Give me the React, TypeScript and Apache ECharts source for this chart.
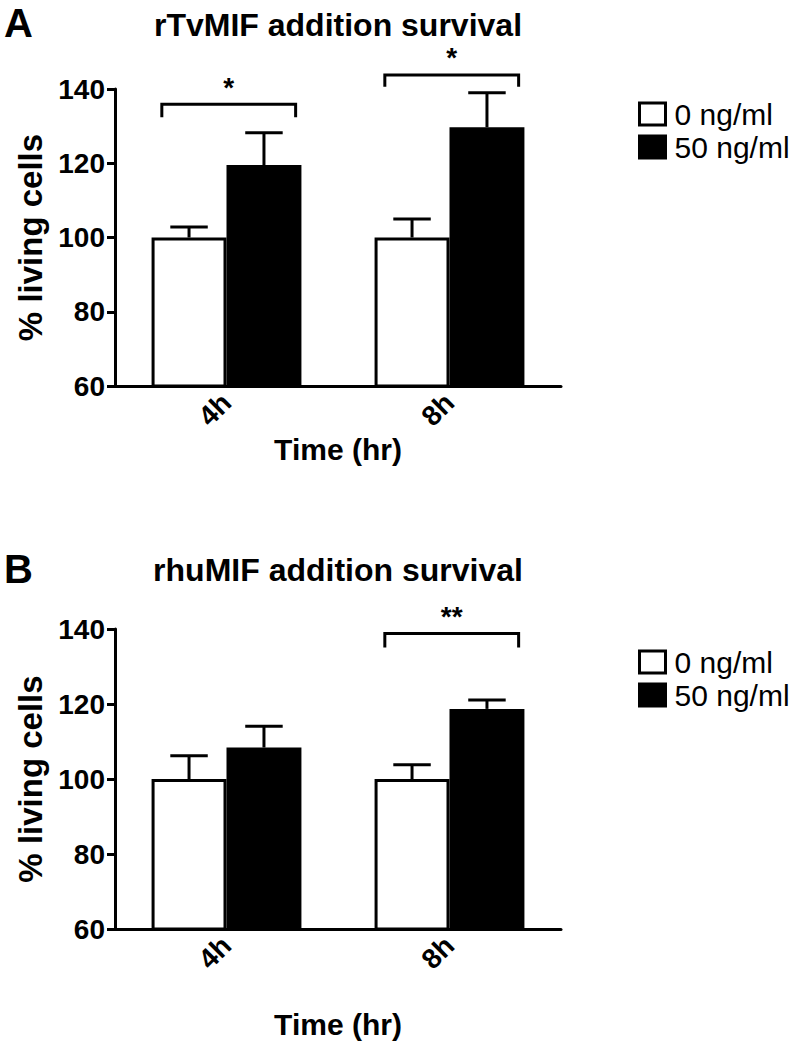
import React, { useEffect, useRef } from "react";
import * as echarts from "echarts";

const categories = ["4h", "8h"];
const seriesNames = ["0 ng/ml", "50 ng/ml"];

// Panel A: rTvMIF
const aMean0 = [100, 100];
const aErr0 = [2.8, 5.0];
const aMean1 = [119.5, 129.7];
const aErr1 = [8.7, 9.3];
const aSigCats = [0, 1];
const aSigTop = [135.9, 143.8];
const aSigLeg = [132.4, 140.6];
const aSigLabels = ["*", "*"];

// Panel B: rhuMIF
const bMean0 = [100, 100];
const bErr0 = [6.2, 3.8];
const bMean1 = [108.4, 118.7];
const bErr1 = [5.7, 2.4];
const bSigCats = [1];
const bSigTop = [138.8];
const bSigLeg = [135.1];
const bSigLabels = ["**"];

const yTicks = { min: 60, max: 140, interval: 20 };

const FONT = "'Liberation Sans', Arial, Helvetica, sans-serif";

export default function App() {
  const ref = useRef<HTMLDivElement>(null);

  useEffect(() => {
    if (!ref.current) return;
    const chart = echarts.init(ref.current, undefined, { renderer: "svg" });

    const BW = 0.336; // bar width fraction of band

    const errData = (m0: number[], e0: number[], m1: number[], e1: number[]) => {
      const d: number[][] = [];
      m0.forEach((v, i) => d.push([i, 0, v, e0[i]]));
      m1.forEach((v, i) => d.push([i, 1, v, e1[i]]));
      return d;
    };

    const errRender = (params: any, api: any) => {
      const cat = api.value(0);
      const grp = api.value(1);
      const mean = api.value(2);
      const err = api.value(3);
      const band = api.size([1, 0])[0];
      const base = api.coord([cat, mean]);
      const top = api.coord([cat, mean + err]);
      const x = base[0] + (grp === 0 ? -1 : 1) * band * BW * 0.5;
      const half = band * BW * 0.25;
      return {
        type: "group",
        children: [
          { type: "line", shape: { x1: x, y1: base[1], x2: x, y2: top[1] }, style: { stroke: "#000", lineWidth: 3 } },
          { type: "line", shape: { x1: x - half, y1: top[1], x2: x + half, y2: top[1] }, style: { stroke: "#000", lineWidth: 3 } },
        ],
      };
    };

    const sigRender = (labels: string[]) => (params: any, api: any) => {
      const cat = api.value(0);
      const topV = api.value(1);
      const legV = api.value(2);
      const band = api.size([1, 0])[0];
      const p = api.coord([cat, topV]);
      const yLeg = api.coord([cat, legV])[1];
      const x1 = p[0] - band * 0.29;
      const x2 = p[0] + band * 0.31;
      return {
        type: "group",
        children: [
          {
            type: "polyline",
            shape: { points: [[x1, yLeg], [x1, p[1]], [x2, p[1]], [x2, yLeg]] },
            style: { stroke: "#000", lineWidth: 3, fill: "none" },
          },
          {
            type: "text",
            x: (x1 + x2) / 2,
            y: p[1] - 9,
            style: {
              text: labels[params.dataIndex],
              font: `bold 28px ${FONT}`,
              lineHeight: 16,
              fill: "#000",
              align: "center",
              verticalAlign: "bottom",
            },
          },
        ],
      };
    };

    const xAxisBase = (gridIndex: number, nameGap: number) => ({
      gridIndex,
      type: "category",
      data: categories,
      axisLine: { lineStyle: { color: "#000", width: 3 } },
      axisTick: { alignWithLabel: true, length: 8, lineStyle: { color: "#000", width: 3 } },
      axisLabel: { rotate: 45, fontSize: 28, fontWeight: "bold", color: "#000", fontFamily: FONT, margin: 12 },
      name: "Time (hr)",
      nameLocation: "middle",
      nameGap,
      nameTextStyle: { fontSize: 30, fontWeight: "bold", color: "#000", fontFamily: FONT },
    });

    const yAxisBase = (gridIndex: number) => ({
      gridIndex,
      type: "value",
      min: yTicks.min,
      max: yTicks.max,
      interval: yTicks.interval,
      axisLine: { show: true, lineStyle: { color: "#000", width: 3 } },
      axisTick: { show: true, length: 8, lineStyle: { color: "#000", width: 3 } },
      axisLabel: { fontSize: 28, fontWeight: "bold", color: "#000", fontFamily: FONT, margin: 10 },
      splitLine: { show: false },
      name: "% living cells",
      nameLocation: "middle",
      nameGap: 64,
      nameTextStyle: { fontSize: 33, fontWeight: "bold", color: "#000", fontFamily: FONT },
    });

    const barSeries = (idx: number, m0: number[], m1: number[]) => [
      {
        type: "bar",
        name: seriesNames[0],
        xAxisIndex: idx,
        yAxisIndex: idx,
        data: m0,
        barWidth: "33.6%",
        barGap: "0%",
        itemStyle: { color: "#fff", borderColor: "#000", borderWidth: 3 },
      },
      {
        type: "bar",
        name: seriesNames[1],
        xAxisIndex: idx,
        yAxisIndex: idx,
        data: m1,
        barWidth: "33.6%",
        barGap: "0%",
        itemStyle: { color: "#000", borderColor: "#000", borderWidth: 3 },
      },
    ];

    const legendBase = (top: number) => ({
      orient: "vertical",
      left: 633,
      top,
      icon: "rect",
      itemWidth: 26,
      itemHeight: 22,
      itemGap: 3,
      selectedMode: false,
      textStyle: { fontSize: 30, color: "#000", fontFamily: FONT, lineHeight: 25, padding: [0, 0, 0, 4] },
      data: [
        { name: seriesNames[0], itemStyle: { color: "#fff", borderColor: "#000", borderWidth: 3 } },
        { name: seriesNames[1], itemStyle: { color: "#000", borderColor: "#000", borderWidth: 3 } },
      ],
    });

    const titleStyle = { fontSize: 32, lineHeight: 32, fontWeight: "bold", color: "#000", fontFamily: FONT };
    const panelStyle = { fontSize: 40, lineHeight: 40, fontWeight: "bold", color: "#000", fontFamily: FONT };

    chart.setOption({
      animation: false,
      backgroundColor: "#fff",
      title: [
        { text: "A", left: 4, top: 3, textStyle: panelStyle, padding: 0 },
        { text: "rTvMIF addition survival", left: 338, top: 9, textAlign: "center", textStyle: titleStyle, padding: 0 },
        { text: "B", left: 4, top: 549, textStyle: panelStyle, padding: 0 },
        { text: "rhuMIF addition survival", left: 338, top: 554, textAlign: "center", textStyle: titleStyle, padding: 0 },
      ],
      legend: [legendBase(94), legendBase(642)],
      grid: [
        { left: 115, top: 89, width: 446, height: 297 },
        { left: 115, top: 629, width: 446, height: 300 },
      ],
      xAxis: [xAxisBase(0, 44), xAxisBase(1, 80)],
      yAxis: [yAxisBase(0), yAxisBase(1)],
      series: [
        ...barSeries(0, aMean0, aMean1),
        ...barSeries(1, bMean0, bMean1),
        {
          type: "custom",
          xAxisIndex: 0,
          yAxisIndex: 0,
          renderItem: errRender,
          encode: { x: 0, y: 2 },
          data: errData(aMean0, aErr0, aMean1, aErr1),
          z: 5,
          silent: true,
        },
        {
          type: "custom",
          xAxisIndex: 1,
          yAxisIndex: 1,
          renderItem: errRender,
          encode: { x: 0, y: 2 },
          data: errData(bMean0, bErr0, bMean1, bErr1),
          z: 5,
          silent: true,
        },
        {
          type: "custom",
          xAxisIndex: 0,
          yAxisIndex: 0,
          renderItem: sigRender(aSigLabels),
          encode: { x: 0, y: 1 },
          data: aSigCats.map((c, i) => [c, aSigTop[i], aSigLeg[i]]),
          clip: false,
          z: 6,
          silent: true,
        },
        {
          type: "custom",
          xAxisIndex: 1,
          yAxisIndex: 1,
          renderItem: sigRender(bSigLabels),
          encode: { x: 0, y: 1 },
          data: bSigCats.map((c, i) => [c, bSigTop[i], bSigLeg[i]]),
          clip: false,
          z: 6,
          silent: true,
        },
      ],
    });

    return () => chart.dispose();
  }, []);

  return (
    <div
      ref={ref}
      style={{ position: "absolute", left: 0, top: 0, width: 800, height: 1049 }}
    />
  );
}
